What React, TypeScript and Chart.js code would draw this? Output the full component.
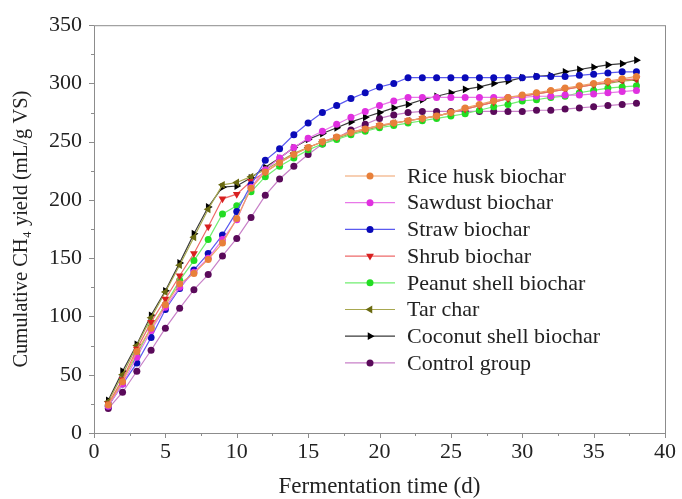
import React, { useEffect, useRef } from 'react';
import { Chart, registerables } from 'chart.js';

Chart.register(...registerables);

const days = [1, 2, 3, 4, 5, 6, 7, 8, 9, 10, 11, 12, 13, 14, 15, 16, 17, 18, 19, 20, 21, 22, 23, 24, 25, 26, 27, 28, 29, 30, 31, 32, 33, 34, 35, 36, 37, 38];

const riceHusk = [24, 44, 70, 90, 110, 128, 137, 149, 163, 184, 210, 224, 232, 239, 245, 250, 254, 258, 261, 264, 266, 268, 270, 272, 275, 279, 282, 285, 288, 290, 292, 294, 296, 298, 300, 302, 304, 306];
const sawdust = [23, 42, 65, 88, 108, 125, 138, 150, 166, 183, 211, 226, 236, 245, 253, 259, 265, 271, 276, 281, 285, 288, 288, 288, 288, 288, 288, 288, 288, 288, 289, 289, 290, 290, 291, 292, 293, 294];
const straw = [23, 42, 60, 82, 106, 124, 140, 154, 170, 190, 213, 234, 244, 256, 266, 275, 281, 287, 292, 297, 300, 305, 305, 305, 305, 305, 305, 305, 305, 305, 306, 306, 306, 307, 308, 309, 310, 310];
const shrub = [25, 46, 72, 95, 115, 135, 154, 177, 201, 205, 216, 224, 232, 239, 245, 250, 254, 258, 261, 264, 266, 268, 270, 272, 275, 278, 281, 284, 287, 289, 291, 293, 295, 297, 299, 301, 303, 304];
const peanutShell = [24, 45, 67, 91, 110, 131, 148, 166, 188, 195, 207, 220, 229, 236, 243, 248, 252, 256, 259, 262, 264, 266, 268, 270, 272, 274, 277, 280, 282, 285, 286, 288, 289, 292, 294, 296, 297, 298];
const tarChar = [27, 50, 75, 99, 121, 144, 168, 192, 213, 215, 220, 226, 233, 240, 245, 250, 253, 257, 260, 263, 266, 268, 270, 272, 275, 278, 281, 284, 287, 289, 291, 293, 295, 297, 299, 300, 302, 303];
const coconutShell = [28, 53, 76, 101, 122, 146, 171, 194, 211, 212, 219, 228, 236, 245, 252, 257, 262, 267, 271, 275, 279, 282, 286, 289, 292, 295, 297, 300, 302, 305, 306, 307, 310, 312, 314, 316, 317, 320];
const control = [21, 35, 53, 71, 90, 107, 123, 136, 152, 167, 185, 204, 218, 229, 239, 248, 253, 260, 265, 270, 273, 275, 276, 276, 276, 276, 276, 276, 276, 276, 277, 277, 278, 279, 280, 281, 282, 283];

const seriesLabels = ['Rice husk biochar', 'Sawdust biochar', 'Straw biochar', 'Shrub biochar', 'Peanut shell biochar', 'Tar char', 'Coconut shell biochar', 'Control group'];
const seriesValues = [riceHusk, sawdust, straw, shrub, peanutShell, tarChar, coconutShell, control];
const lineColors = ['#F0A068', '#E878E8', '#5A5AF0', '#EE6A6A', '#70EE70', '#A8A850', '#3A3A3A', '#C880C8'];
const markerColors = ['#E8803A', '#E030E0', '#0A0AB8', '#D82020', '#22DD22', '#6A6A10', '#000000', '#5A0A5A'];
const markerStyles = ['circle', 'circle', 'circle', 'triangle', 'circle', 'triangle', 'triangle', 'circle'];
const markerRotations = [0, 0, 0, 180, 0, 270, 90, 0];

const xMin = 0, xMax = 40, xStep = 5;
const yMin = 0, yMax = 350, yStep = 50;

const SERIF = '"Liberation Serif", "Times New Roman", serif';

function drawMarker(ctx: CanvasRenderingContext2D, style: string, rot: number, x: number, y: number, r: number, color: string) {
  ctx.save();
  ctx.fillStyle = color;
  ctx.beginPath();
  if (style === 'circle') {
    ctx.arc(x, y, r, 0, Math.PI * 2);
  } else {
    const rad = (rot * Math.PI) / 180;
    for (let k = 0; k < 3; k++) {
      const a = rad + (k * 2 * Math.PI) / 3;
      const px = x + Math.sin(a) * r;
      const py = y - Math.cos(a) * r;
      if (k === 0) ctx.moveTo(px, py);
      else ctx.lineTo(px, py);
    }
  }
  ctx.closePath();
  ctx.fill();
  ctx.restore();
}

const framePlugin = {
  id: 'framePlugin',
  beforeDatasetsDraw(chart: any) {
    const { ctx, chartArea } = chart;
    const { left, right, top, bottom } = chartArea;
    const xs = chart.scales.x;
    const ys = chart.scales.y;
    ctx.save();
    ctx.strokeStyle = '#8C8C8C';
    ctx.lineWidth = 1;
    ctx.strokeRect(left + 0.5, top + 0.5, right - left, bottom - top);
    ctx.beginPath();
    for (let v = xMin; v <= xMax + 1e-6; v += xStep / 2) {
      const px = Math.round(xs.getPixelForValue(v)) + 0.5;
      const len = Math.abs(v % xStep) < 1e-6 ? 5 : 3;
      ctx.moveTo(px, bottom);
      ctx.lineTo(px, bottom + len);
    }
    for (let v = yMin; v <= yMax + 1e-6; v += yStep / 2) {
      const py = Math.round(ys.getPixelForValue(v)) + 0.5;
      const len = Math.abs(v % yStep) < 1e-6 ? 5 : 3;
      ctx.moveTo(left, py);
      ctx.lineTo(left - len, py);
    }
    ctx.stroke();
    ctx.restore();
  },
};

const legendPlugin = {
  id: 'insideLegend',
  afterDraw(chart: any) {
    const { ctx } = chart;
    const x0 = 345, x1 = 395, tx = 407, y0 = 176, dy = 26.7;
    ctx.save();
    ctx.font = `22px ${SERIF}`;
    ctx.textBaseline = 'middle';
    ctx.textAlign = 'left';
    seriesLabels.forEach((label, i) => {
      const y = y0 + i * dy;
      ctx.strokeStyle = lineColors[i];
      ctx.lineWidth = 1.2;
      ctx.beginPath();
      ctx.moveTo(x0, y);
      ctx.lineTo(x1, y);
      ctx.stroke();
      drawMarker(ctx, markerStyles[i], markerRotations[i], (x0 + x1) / 2, y, markerStyles[i] === 'circle' ? 3.5 : 4.5, markerColors[i]);
      ctx.fillStyle = '#222222';
      ctx.fillText(label, tx, y + 1);
    });
    ctx.restore();
  },
};

export default function App() {
  const canvasRef = useRef<HTMLCanvasElement | null>(null);

  useEffect(() => {
    if (!canvasRef.current) return;
    const datasets = seriesLabels.map((label, i) => ({
      label,
      data: days.map((d, j) => ({ x: d, y: seriesValues[i][j] })),
      borderColor: lineColors[i],
      backgroundColor: markerColors[i],
      borderWidth: 1.2,
      pointStyle: markerStyles[i],
      pointRotation: markerRotations[i],
      pointRadius: markerStyles[i] === 'circle' ? 3.5 : 4.5,
      pointBorderWidth: 0,
      pointBackgroundColor: markerColors[i],
      pointBorderColor: markerColors[i],
      tension: 0,
      fill: false,
    }));

    const chart = new Chart(canvasRef.current, {
      type: 'line',
      data: { datasets },
      options: {
        animation: false,
        responsive: true,
        maintainAspectRatio: false,
        layout: { padding: { top: 19, right: 17, left: 0, bottom: 0 } },
        plugins: {
          legend: { display: false },
          tooltip: { enabled: false },
        },
        scales: {
          x: {
            type: 'linear',
            min: xMin,
            max: xMax,
            afterFit: (s: any) => { s.height = 66; },
            ticks: { stepSize: xStep, font: { family: SERIF, size: 22 }, color: '#222222', padding: 6, maxRotation: 0 },
            grid: { display: false, drawTicks: false },
            border: { display: false },
            title: { display: true, text: 'Fermentation time (d)', font: { family: SERIF, size: 23, lineHeight: 1 }, color: '#222222', padding: { top: 0, bottom: 0.5 } },
          },
          y: {
            type: 'linear',
            min: yMin,
            max: yMax,
            afterFit: (s: any) => { s.width = 94; },
            ticks: { stepSize: yStep, font: { family: SERIF, size: 22 }, color: '#222222', padding: 12 },
            grid: { display: false, drawTicks: false },
            border: { display: false },
            title: { display: true, text: 'Cumulative CH\u2084 yield (mL/g VS)', font: { family: SERIF, size: 20.5 }, color: '#222222', padding: { top: 9, bottom: 0 } },
          },
        },
      },
      plugins: [framePlugin, legendPlugin],
    });
    return () => chart.destroy();
  }, []);

  return (
    <div style={{ position: 'absolute', left: 0, top: 0, width: 682, height: 499, background: '#ffffff' }}>
      <canvas ref={canvasRef} />
    </div>
  );
}
